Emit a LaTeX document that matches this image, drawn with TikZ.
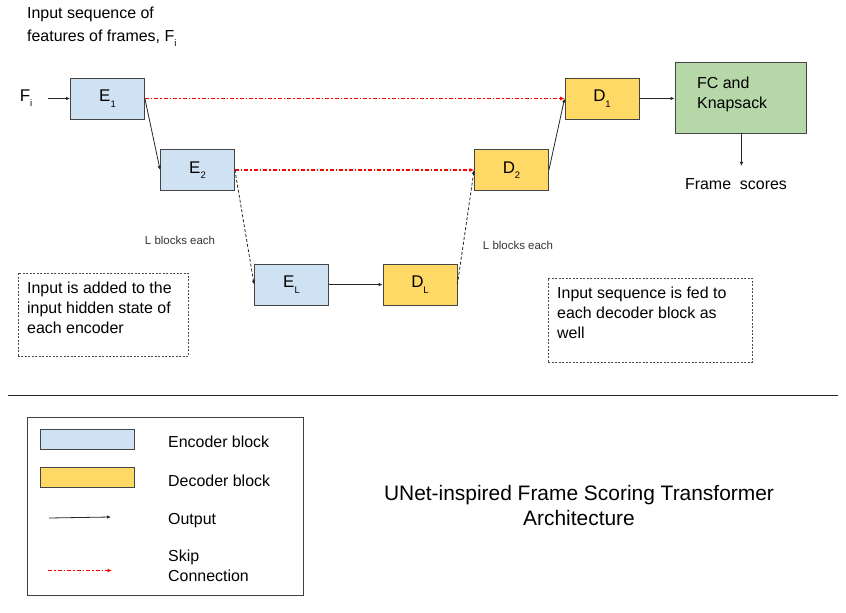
\documentclass[tikz,border=0pt]{standalone}
\usepackage{fontspec}
\setmainfont{Liberation Sans}
\usetikzlibrary{arrows.meta}
\definecolor{encblue}{HTML}{CFE2F3}
\definecolor{decyel}{HTML}{FFD966}
\definecolor{fcgreen}{HTML}{B6D7A8}
\definecolor{edge}{HTML}{444444}
\definecolor{skipred}{HTML}{FF0000}
\newcommand{\lowsub}[1]{\raisebox{-0.6ex}{\fontsize{9.5}{9.5}\selectfont #1}}
\tikzset{
  blk/.style={draw=edge, line width=0.8bp, minimum width=74bp, minimum height=41bp, inner sep=0pt, font=\fontsize{17}{17}\selectfont},
  enc/.style={blk, fill=encblue},
  dec/.style={blk, fill=decyel},
  outarrow/.style={draw=black!85, line width=0.8bp, -{Latex[length=4bp,width=3.5bp]}},
  dasharrow/.style={outarrow, dash pattern=on 3bp off 2bp},
  skiparrow/.style={color=skipred, line width=1.2bp, dash pattern=on 4bp off 2bp on 1.5bp off 2bp, -{Latex[length=4.5bp,width=4bp]}},
  note/.style={draw=black!70, dash pattern=on 2bp off 1.5bp, line width=0.7bp},
  txt/.style={font=\fontsize{16}{20}\selectfont, inner sep=0pt, align=left},
  small/.style={font=\fontsize{11.5}{13}\selectfont, text=black!80, inner sep=0pt}
}
\begin{document}
\begin{tikzpicture}[x=1bp,y=-1bp]
\useasboundingbox (0,0) rectangle (846,613);
% top caption
\node[txt, font=\fontsize{16}{23}\selectfont, anchor=north west] (cap) at (27,7) {Input sequence of\\features of frames, F\lowsub{i}};
% blocks
\node[enc] (e1) at (107.5,98.5) {E\lowsub{1}};
\node[enc] (e2) at (197.5,170) {E\lowsub{2}};
\node[enc] (el) at (291.5,284.5) {E\lowsub{L}};
\node[dec] (dl) at (420,284.5) {D\lowsub{L}};
\node[dec] (d2) at (511.5,170) {D\lowsub{2}};
\node[dec] (d1) at (602,98.5) {D\lowsub{1}};
\node[draw=edge, line width=0.8bp, fill=fcgreen, minimum width=131bp, minimum height=71bp, inner sep=0pt] (fc) at (740.5,97.5) {};
\node[txt, anchor=north west] (fctext) at (697,77) {FC and\\Knapsack};
% input
\node[font=\fontsize{17}{17}\selectfont, inner sep=0pt] (fi) at (26,98) {F\lowsub{i}};
\coordinate (fiend) at (48,98.5);
\draw[outarrow] (fiend) -- (e1.west);
% skip connections
\draw[skiparrow] (e1.east) -- (d1.west);
\draw[skiparrow] (e2.east) -- (d2.west);
% outputs
\draw[outarrow] (e1.east) -- (e2.west);
\draw[dasharrow] (e2.east) -- (el.west);
\draw[outarrow] (el.east) -- (dl.west);
\draw[dasharrow] (dl.east) -- (d2.west);
\draw[outarrow] (d2.east) -- (d1.west);
\draw[outarrow] (d1.east) -- (fc.west |- d1.east);
\coordinate (fsend) at (741.5,166);
\draw[outarrow] (fc.south -| fsend) -- (fsend);
\node[txt] (fs) at (736,184) {Frame\ \ scores};
% L blocks labels
\node[small] (lb1) at (180,240) {L blocks each};
\node[small] (lb2) at (518,245) {L blocks each};
% notes
\node[note, minimum width=170bp, minimum height=83bp, inner sep=0pt] (n1) at (103,314.5) {};
\node[txt, anchor=north west] (n1t) at (27,282) {Input is added to the\\input hidden state of\\each encoder};
\node[note, minimum width=204bp, minimum height=84bp, inner sep=0pt] (n2) at (650,320) {};
\node[txt, anchor=north west] (n2t) at (557,287) {Input sequence is fed to\\each decoder block as\\well};
% separator
\coordinate (sepl) at (8,395.5);
\coordinate (sepr) at (838,395.5);
\draw[black!85, line width=0.8bp] (sepl) -- (sepr);
% legend
\node[draw=black!75, line width=0.8bp, minimum width=276bp, minimum height=178bp, inner sep=0pt] (leg) at (165,506) {};
\node[draw=edge, line width=0.8bp, fill=encblue, minimum width=94bp, minimum height=20bp, inner sep=0pt] (lenc) at (87,439) {};
\node[draw=edge, line width=0.8bp, fill=decyel, minimum width=94bp, minimum height=20bp, inner sep=0pt] (ldec) at (87,477) {};
\coordinate (lo1) at (49,518);
\coordinate (lo2) at (111,517);
\draw[outarrow] (lo1) -- (lo2);
\coordinate (ls1) at (48,570.5);
\coordinate (ls2) at (112,570.5);
\draw[skiparrow] (ls1) -- (ls2);
\node[txt, anchor=west] (tenc) at (168,442) {Encoder block};
\node[txt, anchor=west] (tdec) at (168,481) {Decoder block};
\node[txt, anchor=west] (tout) at (168,521) {Output};
\node[txt, anchor=north west] (tskip) at (168,550) {Skip\\Connection};
% title
\node[font=\fontsize{21}{25}\selectfont, align=center, inner sep=0pt] (title) at (579,505.5) {UNet-inspired Frame Scoring Transformer\\Architecture};
\end{tikzpicture}
\end{document}
